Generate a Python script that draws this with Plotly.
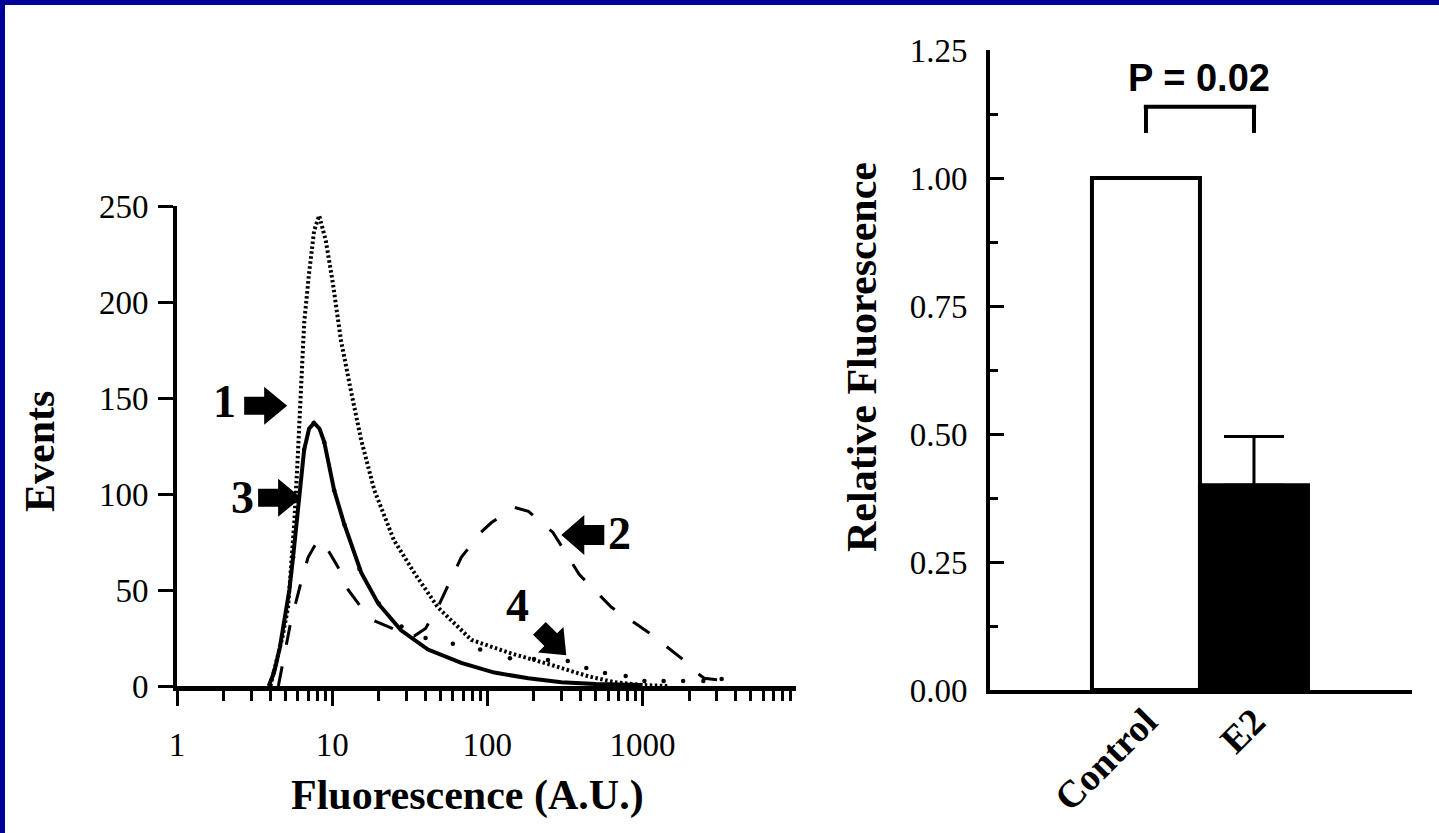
import math
import plotly.graph_objects as go

# ------------------------------------------------------------------ data
# Curve 1 (dense dotted)
curve1_x = [4.0, 4.35, 4.8, 5.2, 5.7, 6.0, 6.3, 6.6, 7.1, 7.65, 8.25, 9.1, 10.1, 11.4,
            13.2, 15.4, 18.7, 25, 33.8, 48, 79, 142, 258, 450, 660, 1000, 1500]
curve1_y = [0, 12, 26, 41, 85, 119, 154, 189, 215, 237, 245, 232, 210, 180,
            154, 128, 102, 76, 59, 41, 24, 17, 11, 5, 2, 0.5, 0]
# Curve 2 (dashed)
curve2_x = [4.5, 4.7, 5.4, 6.3, 7.0, 8.1, 8.9, 10.9, 12.7, 15.4, 18.7, 27.8, 33.8, 40,
            48, 68, 91, 106, 150, 184, 265, 392, 632, 1090, 1500, 1880, 2150, 2500, 3200, 3900]
curve2_y = [0, 8, 33, 54, 67, 76, 74, 62, 50, 41, 34, 28, 26, 30,
            41, 67, 80, 85, 93, 91, 80, 58, 41, 28, 19, 13, 8, 4, 3, 3]
# Curve 3 (solid)
curve3_x = [3.9, 4.22, 4.6, 4.9, 5.3, 5.6, 6.03, 6.6, 7.1, 7.65, 8.3, 8.9, 10.3, 11.9,
            15.4, 19.8, 27.8, 41.5, 68, 111, 184, 300, 500, 1000]
curve3_y = [0, 7, 20, 33, 50, 67, 93, 123, 134, 137, 134, 127, 102, 85,
            59, 43, 29, 19, 12, 7, 4, 2, 1, 0.5]
# Curve 4 (sparse dots)
curve4_x = [4.2, 4.9, 5.6, 6.6, 7.6, 8.9, 10.3, 12, 15, 20, 28, 40, 60, 90, 140, 200,
            246, 330, 435, 574, 780, 1030, 1370, 1830, 2470, 3240]
curve4_y = [7, 33, 67, 123, 137, 127, 102, 84, 61, 43, 31, 25, 22, 19, 14.5, 14,
            13.5, 13, 9.4, 6.8, 5.2, 2.6, 2.6, 2.6, 2.6, 3.6]

hist_xticks = [1, 10, 100, 1000]
hist_xticktext = ["1", "10", "100", "1000"]
hist_xminor = [m * d for d in [1, 10, 100, 1000] for m in range(2, 10)]
hist_yticks = [0, 50, 100, 150, 200, 250]

bar_categories = ["Control", "E2"]
bar_values = [1.00, 0.40]
bar_errors = [0.0, 0.095]
bar_colors = ["white", "black"]
bar_yticks = [0, 0.25, 0.5, 0.75, 1.0, 1.25]
bar_yticktext = ["0.00", "0.25", "0.50", "0.75", "1.00", "1.25"]
bar_yminor = [0.125, 0.375, 0.625, 0.875, 1.125]
p_label = "P = 0.02"
bracket_top = 1.139
bracket_bottom = 1.088

# ------------------------------------------------------------------ layout geometry (pixels)
W, H = 1439, 833
LX0, LX1 = 177, 796
LY0, LY1 = 206, 686
RX0, RX1 = 990, 1412
RY0, RY1 = 50, 690
LOG_RANGE = [0, 3.99]


def px2paper(px, py):
    return px / W, 1 - py / H


def left_data2px(xv, yv):
    px = LX0 + (math.log10(xv) - LOG_RANGE[0]) / (LOG_RANGE[1] - LOG_RANGE[0]) * (LX1 - LX0)
    py = LY1 - yv / 250.0 * (LY1 - LY0)
    return px, py


def block_arrow(tip_x, tip_y, angle_deg, shaft_len=20, shaft_w=18, head_len=23, head_w=38):
    tx, ty = left_data2px(tip_x, tip_y)
    a = math.radians(angle_deg)
    ca, sa = math.cos(a), math.sin(a)
    pts = [(0, 0), (-head_len, head_w / 2), (-head_len, shaft_w / 2),
           (-head_len - shaft_len, shaft_w / 2), (-head_len - shaft_len, -shaft_w / 2),
           (-head_len, -shaft_w / 2), (-head_len, -head_w / 2)]
    path = ""
    for i, (u, v) in enumerate(pts):
        x = tx + u * ca - v * sa
        y = ty + u * sa + v * ca
        X, Y = px2paper(x, y)
        path += ("M" if i == 0 else "L") + f"{X:.5f},{Y:.5f} "
    path += "Z"
    return dict(type="path", xref="paper", yref="paper", path=path,
                fillcolor="black", line=dict(width=0), layer="above")


fig = go.Figure()

fig.add_trace(go.Scatter(x=curve1_x, y=curve1_y, mode="lines", xaxis="x", yaxis="y",
                         line=dict(color="black", width=4, dash="2.5px,2.5px"), showlegend=False))
fig.add_trace(go.Scatter(x=curve2_x, y=curve2_y, mode="lines", xaxis="x", yaxis="y",
                         line=dict(color="black", width=3, dash="20px,22px"), showlegend=False))
fig.add_trace(go.Scatter(x=curve3_x, y=curve3_y, mode="lines", xaxis="x", yaxis="y",
                         line=dict(color="black", width=4), showlegend=False))
fig.add_trace(go.Scatter(x=curve4_x, y=curve4_y, mode="markers", xaxis="x", yaxis="y",
                         marker=dict(color="black", size=4.5), showlegend=False))

fig.add_trace(go.Bar(x=bar_categories, y=bar_values, xaxis="x2", yaxis="y2", width=1.0,
                     marker=dict(color=bar_colors, line=dict(color="black", width=4)),
                     error_y=dict(type="data", array=bar_errors, arrayminus=[0, 0],
                                  symmetric=False, color="black", thickness=3, width=30),
                     showlegend=False))

tickfont = dict(family="Liberation Serif", size=33, color="black")

fig.update_layout(
    template="none",
    width=W, height=H,
    autosize=False,
    margin=dict(l=0, r=0, t=0, b=0, pad=0, autoexpand=False),
    paper_bgcolor="white", plot_bgcolor="white",
    barmode="overlay",
    xaxis=dict(domain=[LX0 / W, LX1 / W], type="log", range=LOG_RANGE, automargin=False,
               tickmode="array", tickvals=hist_xticks, ticktext=hist_xticktext,
               ticks="outside", ticklen=15, tickwidth=3, tickcolor="black",
               minor=dict(tickmode="array", tickvals=hist_xminor, ticks="outside",
                          ticklen=10, tickwidth=3, tickcolor="black", showgrid=False),
               showline=True, linewidth=5, linecolor="black", showgrid=False, zeroline=False,
               tickfont=tickfont, ticklabelstandoff=10, anchor="y"),
    yaxis=dict(domain=[1 - LY1 / H, 1 - LY0 / H], range=[0, 250], automargin=False,
               tickmode="array", tickvals=hist_yticks,
               ticks="outside", ticklen=15, tickwidth=3, tickcolor="black",
               showline=True, linewidth=4, linecolor="black", showgrid=False, zeroline=False,
               tickfont=tickfont, ticklabelstandoff=3, anchor="x"),
    xaxis2=dict(domain=[RX0 / W, RX1 / W], type="category", range=[-1.444, 2.463],
                automargin=False,
                ticks="", showline=True, linewidth=4, linecolor="black", showgrid=False,
                tickangle=-45,
                tickfont=dict(family="Liberation Serif", size=38, color="black", weight="bold"),
                ticklabelstandoff=-10, anchor="y2"),
    yaxis2=dict(domain=[1 - RY1 / H, 1 - RY0 / H], range=[0, 1.25], automargin=False,
                tickmode="array", tickvals=bar_yticks, ticktext=bar_yticktext,
                ticks="inside", ticklen=14, tickwidth=3, tickcolor="black",
                minor=dict(tickmode="array", tickvals=bar_yminor, ticks="inside",
                           ticklen=8, tickwidth=3, tickcolor="black", showgrid=False),
                showline=True, linewidth=4, linecolor="black", showgrid=False, zeroline=False,
                tickfont=tickfont, ticklabelstandoff=12, anchor="x2"),
)

shapes = [
    # blue frame (top and left edges)
    dict(type="rect", xref="paper", yref="paper", x0=0, x1=1, y0=1 - 5 / H, y1=1,
         fillcolor="#000099", line=dict(width=0)),
    dict(type="rect", xref="paper", yref="paper", x0=0, x1=5 / W, y0=0, y1=1,
         fillcolor="#000099", line=dict(width=0)),
    # significance bracket
    dict(type="line", xref="x2", yref="y2", x0=0, x1=0, y0=bracket_bottom, y1=bracket_top,
         line=dict(color="black", width=4)),
    dict(type="line", xref="x2", yref="y2", x0=-0.02, x1=1.02, y0=bracket_top, y1=bracket_top,
         line=dict(color="black", width=4)),
    dict(type="line", xref="x2", yref="y2", x0=1, x1=1, y0=bracket_bottom, y1=bracket_top,
         line=dict(color="black", width=4)),
    # block arrows pointing at curves
    block_arrow(5.13, 146, 0),
    block_arrow(6.31, 98, 0),
    block_arrow(300, 78.6, 180, shaft_w=20, head_w=40),
    block_arrow(323, 16, 45, shaft_len=16, head_len=22, head_w=36),
]
fig.update_layout(shapes=shapes)

annotations = []


def add_text(text, px, py, size, family="Liberation Serif", angle=0, bold=True):
    X, Y = px2paper(px, py)
    annotations.append(dict(text=text, x=X, y=Y, xref="paper", yref="paper",
                            showarrow=False, textangle=angle, xanchor="center", yanchor="middle",
                            font=dict(family=family, size=size, color="black",
                                      weight="bold" if bold else "normal")))


add_text("1", 225, 401, 46)
add_text("3", 242, 497, 46)
add_text("2", 619, 533, 46)
add_text("4", 517, 605, 46)
add_text("Events", 40, 452, 42, angle=-90)
add_text("Fluorescence (A.U.)", 467, 795, 42)
add_text("Relative Fluorescence", 862, 357, 42, angle=-90)
add_text(p_label, 1199, 78, 38, family="Liberation Sans")
fig.update_layout(annotations=annotations)

fig.write_html("out.html", config={"displayModeBar": False},
               post_script="document.body.style.margin='0';")
